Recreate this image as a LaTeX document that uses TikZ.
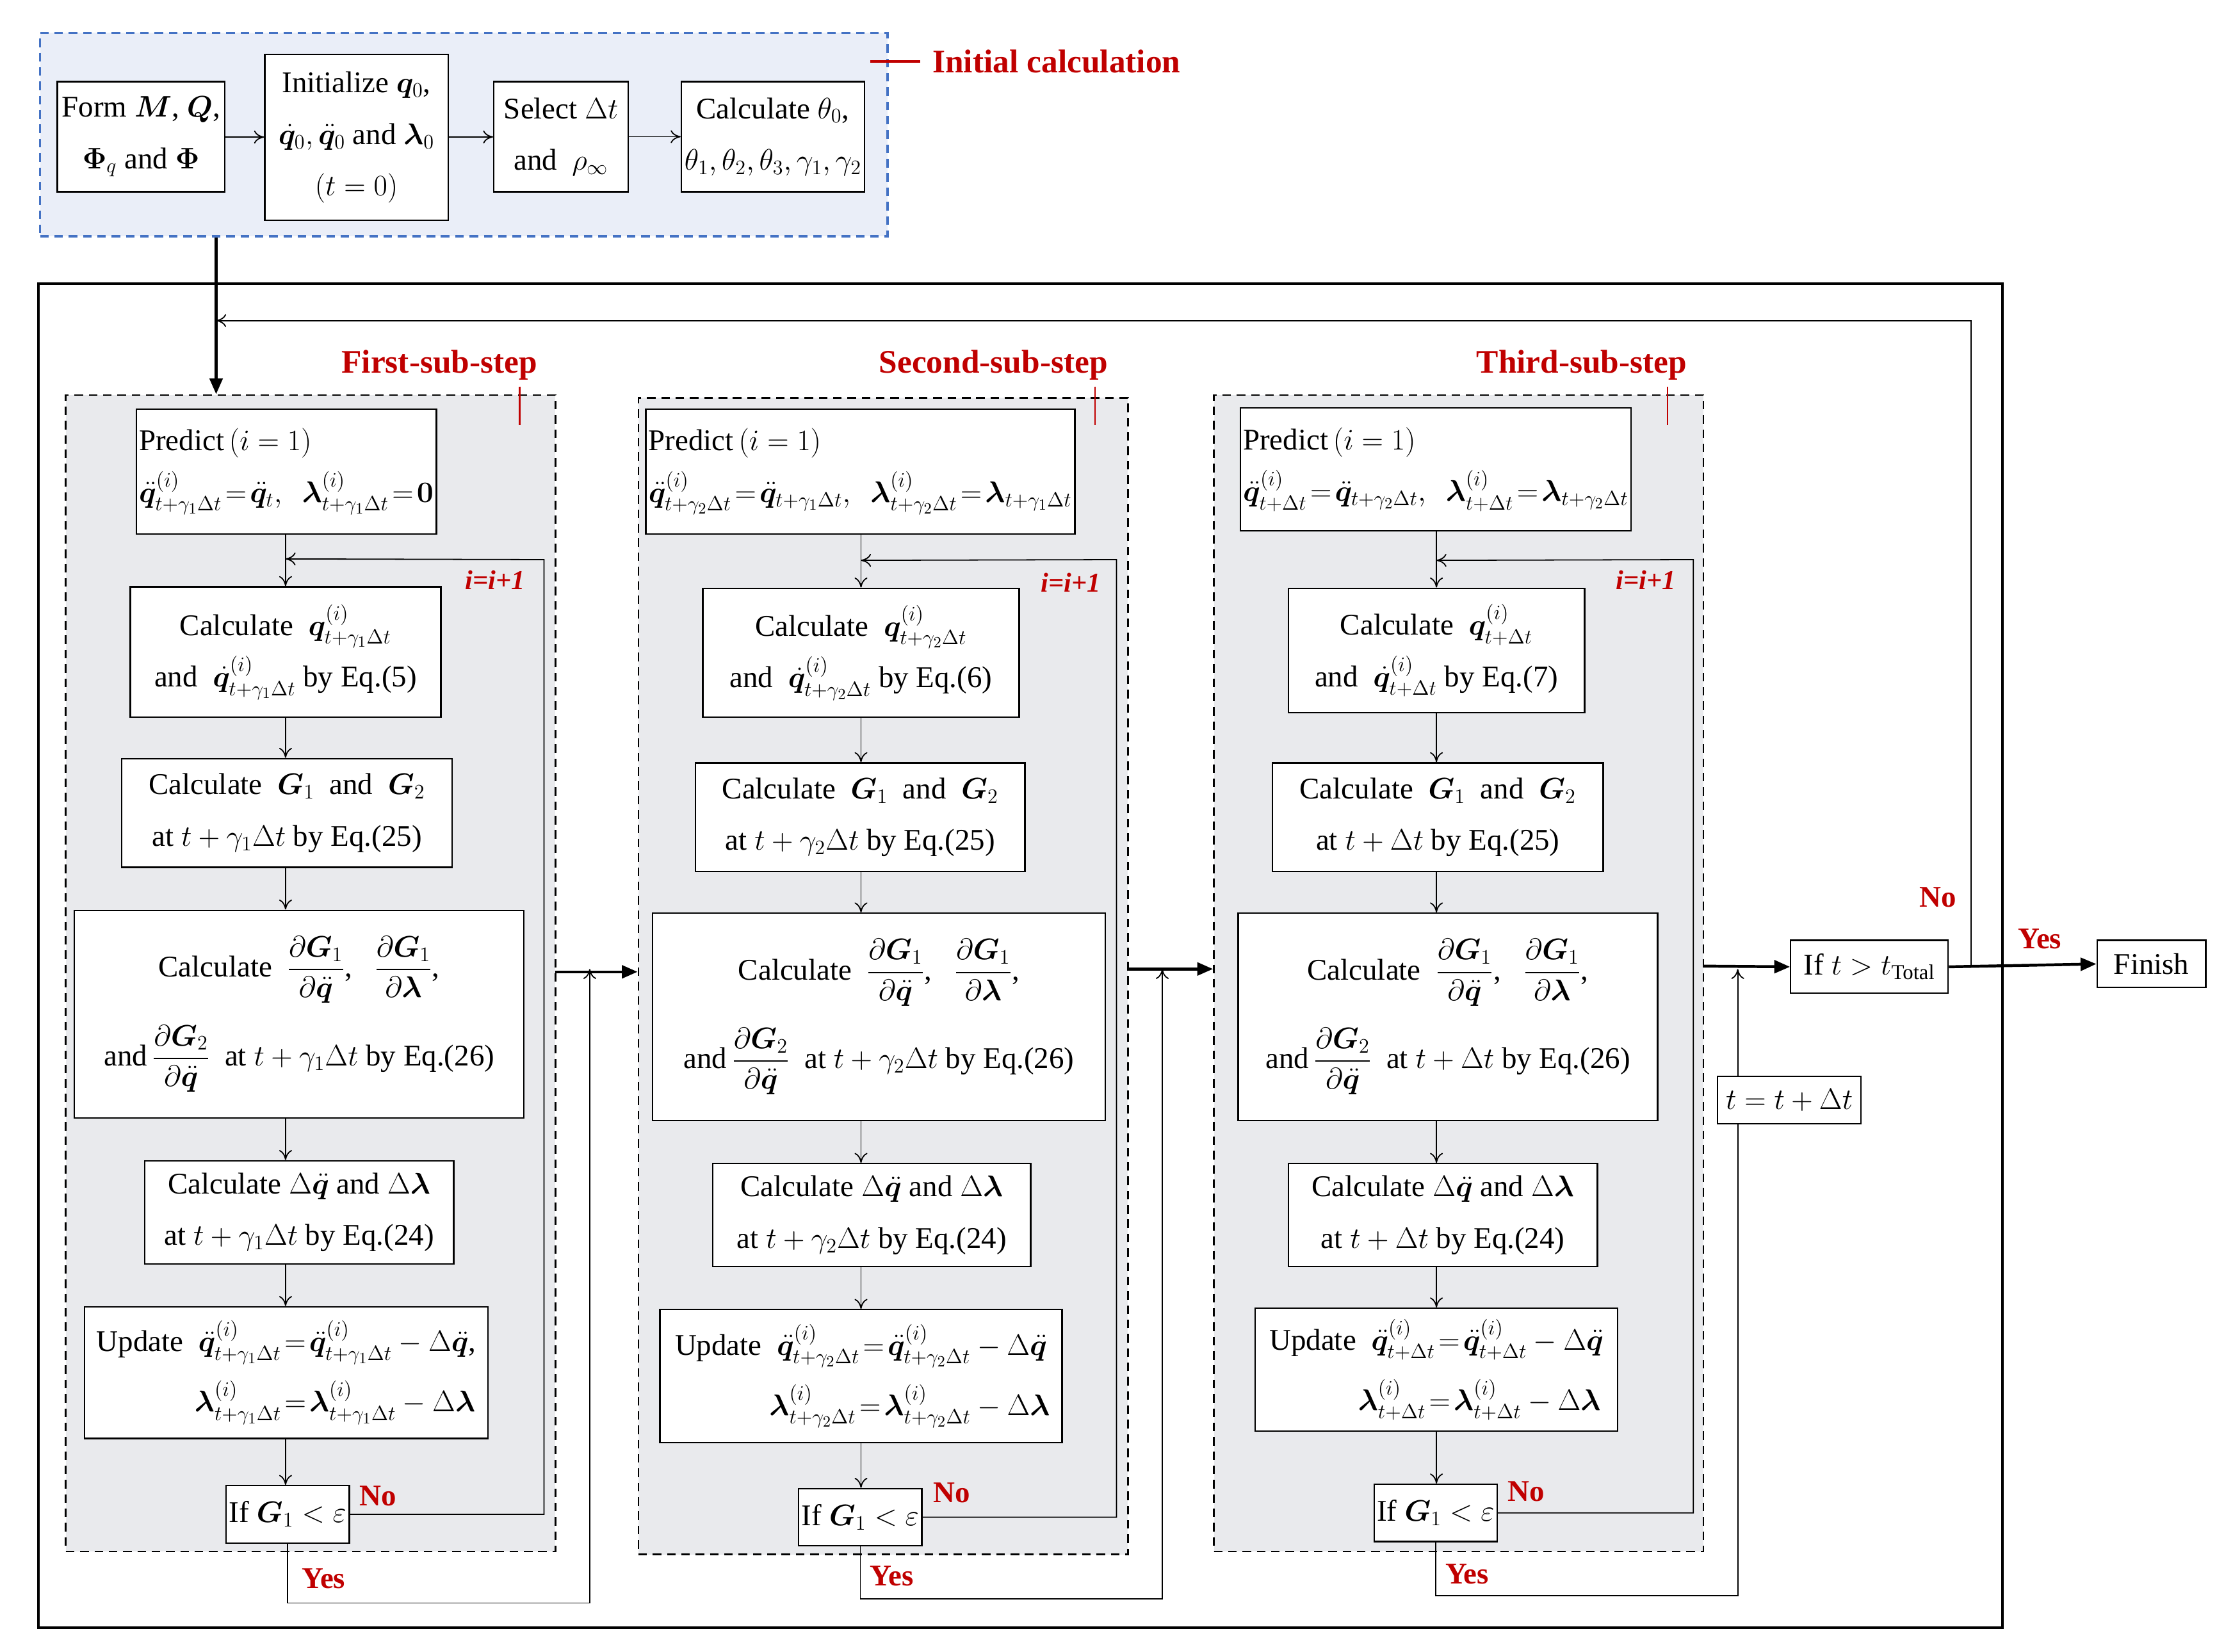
\documentclass[tikz,border=0pt]{standalone}
\usepackage{amsmath}
\usepackage{bm}
\usepackage{fontspec}
\setmainfont{Liberation Serif}
\usetikzlibrary{arrows.meta,calc}
\definecolor{dred}{RGB}{192,0,0}
\definecolor{iblue}{RGB}{68,114,196}
\definecolor{ifill}{RGB}{234,238,248}
\definecolor{pfill}{RGB}{233,234,237}
\newcommand{\qdd}{\ddot{\bm q}}
\newcommand{\gsub}[1]{t+\gamma_{#1}\Delta t}
\begin{document}
\begin{tikzpicture}[x=1pt,y=-1pt,
  box/.style={draw,fill=white,line width=1pt,inner sep=2pt,align=center,font=\fontsize{21}{36}\selectfont},
  ibox/.style={draw,fill=white,line width=1pt,inner sep=2pt,align=center,font=\fontsize{21}{36}\selectfont},
  arr/.style={line width=0.8pt,-{To[length=7pt,width=9pt]}},
  thk/.style={line width=2pt,-{Triangle[length=11pt,width=9pt]}},
  panel/.style={draw,line width=1.2pt,fill=pfill,dash pattern=on 6pt off 4pt},
  ttl/.style={text=dred,font=\fontsize{23}{26}\selectfont\bfseries},
  red/.style={text=dred,font=\fontsize{21}{24}\selectfont\bfseries}]
\useasboundingbox (0,0) rectangle (1560,1154);
% initial
\node[draw=iblue,fill=ifill,line width=1.5pt,dash pattern=on 6pt off 4pt,minimum width=592pt,minimum height=142pt,inner sep=0] (init) at (324,94) {};
\node[ibox,minimum width=117pt,minimum height=77pt] (f) at (98.5,95.5) {Form $\bm M$, $\bm Q$,\\ $\bm\Phi_q$ and $\bm\Phi$};
\node[ibox,minimum width=128pt,minimum height=116pt] (in) at (249,96) {Initialize $\bm q_0$,\\ $\dot{\bm q}_0,\qdd_0$ and $\bm\lambda_0$\\ $(t=0)$};
\node[ibox,minimum width=94pt,minimum height=77pt] (s) at (392,95.5) {Select $\Delta t$\\ and \ $\rho_\infty$};
\node[ibox,minimum width=128pt,minimum height=77pt] (c) at (540,95.5) {Calculate $\theta_0$,\\ $\theta_1,\theta_2,\theta_3,\gamma_1,\gamma_2$};
\draw[arr] (f) -- (in); \draw[arr] (in) -- (s); \draw[arr] (s) -- (c);
\draw[dred,line width=2pt] (608,43) -- (643,43);
\node[ttl,anchor=west] (ilab) at (648,43) {Initial calculation};
% outer
\node[draw,line width=1.8pt,minimum width=1372pt,minimum height=939pt,inner sep=0] (outer) at (713,667.5) {};
% panels
\node[panel,minimum width=342pt,minimum height=808pt] (P1) at (217,680) {};
\node[panel,minimum width=342pt,minimum height=808pt] (P2) at (617,682) {};
\node[panel,minimum width=342pt,minimum height=808pt] (P3) at (1019,680) {};
\node[ttl] (t1) at (307,255) {First-sub-step};
\node[ttl] (t2) at (694,255) {Second-sub-step};
\node[ttl] (t3) at (1105,255) {Third-sub-step};
\foreach \x in {363,765,1165} \draw[dred,line width=1pt] (\x,270) -- (\x,297);
% column 1
\node[box,align=left,minimum width=206pt,minimum height=87pt] (a1) at (200,329.5) {Predict$\,(i=1)$\\ $\qdd^{(i)}_{\gsub1}\!=\!\qdd_t,\ \ \bm\lambda^{(i)}_{\gsub1}\!=\!\bm 0$};
\node[box,minimum width=217pt,minimum height=91pt] (b1) at (199.5,455.5) {Calculate\ \ $\bm q^{(i)}_{\gsub1}$\\ and\ \ $\dot{\bm q}^{(i)}_{\gsub1}$\ by Eq.(5)};
\node[box,minimum width=231pt,minimum height=76pt] (c1) at (200.5,568) {Calculate\ \ $\bm G_1$\ \ and\ \ $\bm G_2$\\ at $\gsub1$ by Eq.(25)};
\node[box,minimum width=314pt,minimum height=145pt,font=\fontsize{21}{62}\selectfont] (d1) at (209,708.5) {Calculate\ \ $\dfrac{\partial\bm G_1}{\partial\qdd}$,\ \ \ $\dfrac{\partial\bm G_1}{\partial\bm\lambda}$,\\ and\,$\dfrac{\partial\bm G_2}{\partial\qdd}$\ \ at $\gsub1$ by Eq.(26)};
\node[box,minimum width=216pt,minimum height=72pt] (e1) at (209,847) {Calculate $\Delta\qdd$ and $\Delta\bm\lambda$\\ at $\gsub1$ by Eq.(24)};
\node[box,minimum width=282pt,minimum height=92pt,font=\fontsize{21}{42}\selectfont] (g1) at (200,959) {Update\ \ $\qdd^{(i)}_{\gsub1}\!=\!\qdd^{(i)}_{\gsub1}-\Delta\qdd$,\\ \hspace*{68pt}$\bm\lambda^{(i)}_{\gsub1}\!=\!\bm\lambda^{(i)}_{\gsub1}-\Delta\bm\lambda$};
\node[box,minimum width=80pt,minimum height=40pt] (h1) at (201,1058) {If $\bm G_1<\varepsilon$};
% column 2
\node[box,align=left,minimum width=282pt,minimum height=87pt] (a2) at (601,329.5) {Predict$\,(i=1)$\\ $\qdd^{(i)}_{\gsub2}\!=\!\qdd_{\gsub1},\ \ \bm\lambda^{(i)}_{\gsub2}\!=\!\bm\lambda_{\gsub1}$};
\node[box,minimum width=221pt,minimum height=90pt] (b2) at (601.5,456) {Calculate\ \ $\bm q^{(i)}_{\gsub2}$\\ and\ \ $\dot{\bm q}^{(i)}_{\gsub2}$\ by Eq.(6)};
\node[box,minimum width=230pt,minimum height=76pt] (c2) at (601,571) {Calculate\ \ $\bm G_1$\ \ and\ \ $\bm G_2$\\ at $\gsub2$ by Eq.(25)};
\node[box,minimum width=316pt,minimum height=145pt,font=\fontsize{21}{62}\selectfont] (d2) at (614,710.5) {Calculate\ \ $\dfrac{\partial\bm G_1}{\partial\qdd}$,\ \ \ $\dfrac{\partial\bm G_1}{\partial\bm\lambda}$,\\ and\,$\dfrac{\partial\bm G_2}{\partial\qdd}$\ \ at $\gsub2$ by Eq.(26)};
\node[box,minimum width=222pt,minimum height=72pt] (e2) at (609,849) {Calculate $\Delta\qdd$ and $\Delta\bm\lambda$\\ at $\gsub2$ by Eq.(24)};
\node[box,minimum width=281pt,minimum height=93pt,font=\fontsize{21}{42}\selectfont] (g2) at (601.5,961.5) {Update\ \ $\qdd^{(i)}_{\gsub2}\!=\!\qdd^{(i)}_{\gsub2}-\Delta\qdd$\\ \hspace*{68pt}$\bm\lambda^{(i)}_{\gsub2}\!=\!\bm\lambda^{(i)}_{\gsub2}-\Delta\bm\lambda$};
\node[box,minimum width=80pt,minimum height=40pt] (h2) at (601,1060) {If $\bm G_1<\varepsilon$};
% column 3
\node[box,align=left,minimum width=260pt,minimum height=86pt] (a3) at (1003,328) {Predict$\,(i=1)$\\ $\qdd^{(i)}_{t+\Delta t}\!=\!\qdd_{\gsub2},\ \ \bm\lambda^{(i)}_{t+\Delta t}\!=\!\bm\lambda_{\gsub2}$};
\node[box,minimum width=207pt,minimum height=87pt] (b3) at (1003.5,454.5) {Calculate\ \ $\bm q^{(i)}_{t+\Delta t}$\\ and\ \ $\dot{\bm q}^{(i)}_{t+\Delta t}$\ by Eq.(7)};
\node[box,minimum width=231pt,minimum height=76pt] (c3) at (1004.5,571) {Calculate\ \ $\bm G_1$\ \ and\ \ $\bm G_2$\\ at $t+\Delta t$ by Eq.(25)};
\node[box,minimum width=293pt,minimum height=145pt,font=\fontsize{21}{62}\selectfont] (d3) at (1011.5,710.5) {Calculate\ \ $\dfrac{\partial\bm G_1}{\partial\qdd}$,\ \ \ $\dfrac{\partial\bm G_1}{\partial\bm\lambda}$,\\ and\,$\dfrac{\partial\bm G_2}{\partial\qdd}$\ \ at $t+\Delta t$ by Eq.(26)};
\node[box,minimum width=216pt,minimum height=72pt] (e3) at (1008,849) {Calculate $\Delta\qdd$ and $\Delta\bm\lambda$\\ at $t+\Delta t$ by Eq.(24)};
\node[box,minimum width=253pt,minimum height=86pt,font=\fontsize{21}{42}\selectfont] (g3) at (1003.5,957) {Update\ \ $\qdd^{(i)}_{t+\Delta t}\!=\!\qdd^{(i)}_{t+\Delta t}-\Delta\qdd$\\ \hspace*{60pt}$\bm\lambda^{(i)}_{t+\Delta t}\!=\!\bm\lambda^{(i)}_{t+\Delta t}-\Delta\bm\lambda$};
\node[box,minimum width=80pt,minimum height=40pt] (h3) at (1003,1057) {If $\bm G_1<\varepsilon$};
% vertical arrows and loops
\foreach \c/\lx/\yy/\jx in {1/380/1120/412,2/780/1117/812,3/1183/1115/1214}{
  \draw[arr] (a\c.south -| b\c) -- (b\c);
  \draw[arr] (b\c) -- (c\c.north -| b\c);
  \draw[arr] (c\c.south -| b\c) -- (d\c.north -| b\c);
  \draw[arr] (d\c.south -| b\c) -- (e\c.north -| b\c);
  \draw[arr] (e\c.south -| b\c) -- (g\c.north -| b\c);
  \draw[arr] (g\c.south -| b\c) -- (h\c.north -| b\c);
  \draw[arr] (h\c.east) -- (\lx,0 |- h\c.east) -- (\lx,391) -- ($(b\c.north)+(0,-19)$);
  \draw[arr] (h\c.south) -- (h\c.south |- 0,\yy) -- (\jx,\yy) -- (\jx,677);
}
\node[red,font=\fontsize{19}{22}\selectfont\bfseries\itshape] (ii1) at (346,405) {i=i+1};
\node[red,font=\fontsize{19}{22}\selectfont\bfseries\itshape] (ii2) at (748,407) {i=i+1};
\node[red,font=\fontsize{19}{22}\selectfont\bfseries\itshape] (ii3) at (1150,405) {i=i+1};
\node[red] (n1) at (264,1045) {No}; \node[red] (n2) at (665,1043) {No}; \node[red] (n3) at (1066,1042) {No};
\node[red] (y1) at (226,1103) {Yes}; \node[red] (y2) at (623,1101) {Yes}; \node[red] (y3) at (1025,1100) {Yes};
% between panels
\coordinate (k1) at (388,679); \coordinate (k2) at (788,677); \coordinate (k3) at (1190,675);
\draw[thk] (k1) -- (P2.west |- k1);
\draw[thk] (k2) -- (P3.west |- k2);
\node[box,minimum width=110pt,minimum height=37pt] (ift) at (1306,675.5) {If $t>t_{\text{Total}}$};
\draw[thk] (k3) -- (ift.west);
\node[box,minimum width=100pt,minimum height=33pt] (tt) at (1250,768.5) {$t=t+\Delta t$};
\node[box,minimum width=76pt,minimum height=33pt] (fin) at (1503,673.5) {Finish};
\draw[thk] (ift.east) -- (fin.west);
\coordinate (r) at (1377,0 |- ift.east);
\draw[arr] (r) -- (1377,224) -- (151,224);
\draw[thk] (init.south -| 151,0) -- (P1.north -| 151,0);
\node[red] (no4) at (1354,627) {No};
\node[red] (ye4) at (1425,656) {Yes};
\end{tikzpicture}
\end{document}
